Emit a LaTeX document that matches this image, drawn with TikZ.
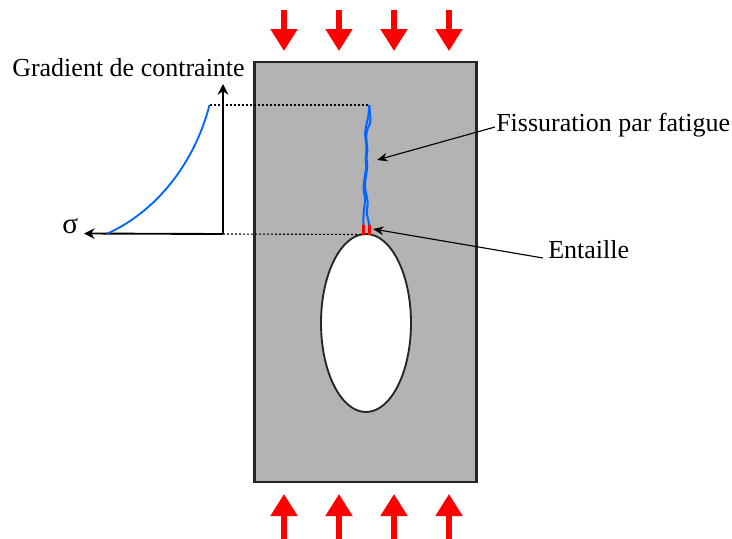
\documentclass[tikz,border=0pt]{standalone}
\usepackage{fontspec}
\setmainfont{Liberation Serif}
\usetikzlibrary{arrows.meta,positioning,calc,shapes.geometric}
\definecolor{plategray}{RGB}{179,179,179}
\definecolor{crackblue}{RGB}{0,102,255}
\definecolor{loadred}{RGB}{255,0,0}
\tikzset{load/.style={-{Triangle[length=16.5pt,width=19.5pt]},line width=3.8pt,loadred},
  axis/.style={-{Stealth[length=8pt,width=8pt]},line width=1.4pt,black},
  pointer/.style={-{Stealth[length=8pt,width=6.5pt]},line width=.85pt,black},
  guide/.style={dash pattern=on 1.5pt off 1.5pt,line width=.85pt,black},
  crack/.style={crackblue,line width=1.5pt,rounded corners=1.5pt},
  labeltext/.style={font=\fontsize{19.5}{22}\selectfont,inner sep=0pt,anchor=west}}

\begin{document}
\begin{tikzpicture}[x=.75pt,y=-.75pt]
\useasboundingbox (0,0) rectangle (732,539);
% plate and hole
\node[draw=black!85,fill=plategray,line width=2.1pt,minimum width=167pt,minimum height=315pt,inner sep=0pt] (plate) at (365.5,272) {};
\node[draw=black!85,fill=white,line width=1.4pt,ellipse,minimum width=67.5pt,minimum height=133.5pt,inner sep=0pt] (hole) at (366,323) {};
% loads
\foreach \i/\xp in {1/284,2/339,3/394,4/449}{
  \coordinate (top\i) at (\xp,10);
  \coordinate (topend\i) at (\xp,51);
  \coordinate (bot\i) at (\xp,539);
  \coordinate (botend\i) at (\xp,494);
  \draw[load] (top\i) -- (topend\i);
  \draw[load] (bot\i) -- (botend\i);
}
% crack
\coordinate (tip) at (369.3,105);
\coordinate (notchl) at (363.3,225);
\coordinate (notchr) at (369.3,225);
\draw[crack] (tip) -- (368.3,117) -- (366,126) -- (365,133) -- (366.7,150) -- (365.5,158) -- (366.3,167) -- (364.5,178) -- (363.3,188) -- (365.3,200) -- (363.6,212) -- (notchl);
\draw[crack] (tip) -- (370.7,122) -- (367,130) -- (366,136) -- (367.5,150) -- (366.5,158) -- (367.5,167) -- (365.5,178) -- (365,188) -- (368,203) -- (366.5,212) -- (notchr);
\coordinate (notchlb) at (363.3,234.5);
\coordinate (notchrb) at (369.3,234.5);
\draw[loadred,line width=2pt] (notchl) -- (notchlb);
\draw[loadred,line width=2pt] (notchr) -- (notchrb);
% stress plot
\coordinate (origin) at (223,234);
\coordinate (ytip) at (223,84);
\coordinate (xtip) at (84,233.5);
\coordinate (curvetop) at (209.5,105);
\coordinate (curvelow) at (107.5,233.5);
\draw[guide] (curvetop) -- (tip);
\draw[guide] (origin) -- (notchlb);
\draw[axis] (origin) -- (ytip);
\draw[axis] (origin) -- (xtip);
\draw[crackblue,line width=1.4pt] (curvelow) .. controls (155,212) and (194,165) .. (curvetop);
% labels
\node[labeltext] (gradient) at (12,68) {Gradient de contrainte};
\node[labeltext,font=\fontsize{22}{24}\selectfont] (sigma) at (62,226) {σ};
\node[labeltext] (fissure) at (496,125) {Fissuration par fatigue};
\node[labeltext] (notch) at (548,250) {Entaille};
\draw[pointer] (fissure.west) ++(-1,2) coordinate (fstart) -- (377,160);
\draw[pointer] (notch.west) ++(-5,8) coordinate (nstart) -- (373,229);
\end{tikzpicture}
\end{document}
